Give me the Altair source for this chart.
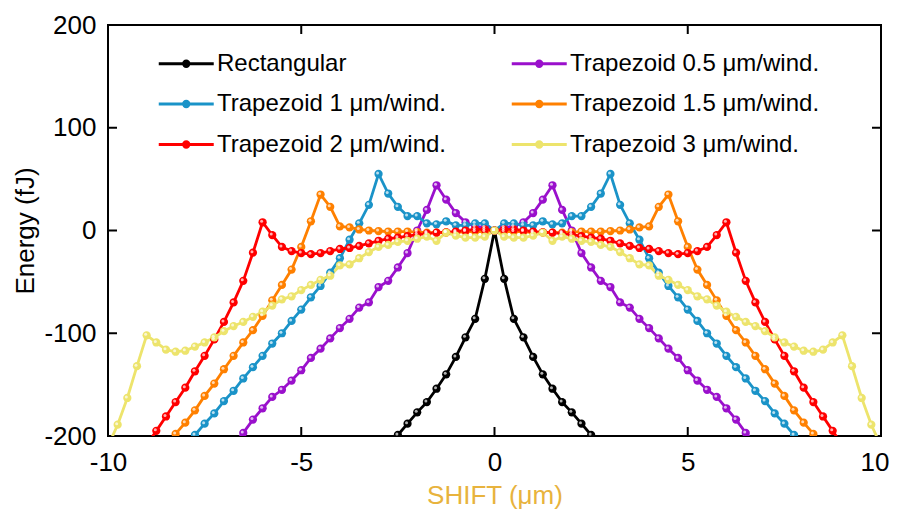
import altair as alt
import pandas as pd

# Series names
names = [
    "Rectangular",
    "Trapezoid 0.5 \u03bcm/wind.",
    "Trapezoid 1 \u03bcm/wind.",
    "Trapezoid 1.5 \u03bcm/wind.",
    "Trapezoid 2 \u03bcm/wind.",
    "Trapezoid 3 \u03bcm/wind.",
]
colors = ["#000000", "#9A10CC", "#1A93C8", "#FF8000", "#FF0000", "#EDE46C"]
# legend fills column-major: col 1 = Rect, 1, 2; col 2 = 0.5, 1.5, 3
legend_order = [0, 2, 4, 1, 3, 5]

step = 0.25  # sampling of SHIFT (um); curves are symmetric about 0
# Energy (fJ) at SHIFT = 0, 0.25, 0.5, ... (right half, mirrored to the left)
rect = [0, -47, -86, -104, -123, -140, -154, -167, -177, -188, -199, -210]
trap05 = [0, 3, 4, 8, 17, 30, 44, 20, 0, -22, -36, -49, -55, -70, -75, -86,
          -95, -105, -115, -124, -136, -146, -155, -162, -173, -184, -197, -208]
trap1 = [0, 7, 7, 5, 5, 9, 6, 7, 14, 14, 23, 36, 55, 25, 7, -9, -27, -41, -54,
         -65, -77, -88, -100, -110, -122, -133, -144, -156, -166, -178, -188,
         -199, -210]
trap15 = [0, -1, -1, -1, -2, -2, -2, -2, -1.5, -1, -1, -1, -0.5, 0, 1, 3, 4,
          23, 35, 9, -16, -38, -53, -68, -83, -97, -109, -122, -135, -149,
          -161, -175, -187, -198, -210]
trap2 = [0, 1, 1, 0, -1, -1.5, -2, -3, -4, -5.5, -7, -8, -10, -12.5, -15, -17,
         -18, -20, -22, -23, -22, -20, -16, -4.5, 8, -21.6, -49, -70, -89,
         -106, -122, -137, -153, -167, -181, -195, -209]
trap3 = [0, -6, -7, -7, -5, -2, -10, -6, -8, -10, -11, -14, -16, -21, -27,
         -33, -34, -44, -48, -53, -58, -64, -67, -73, -79, -84, -89, -93, -98,
         -104, -109, -113, -117, -118, -116, -109, -102, -132, -163, -189, -210]
series = [rect, trap05, trap1, trap15, trap2, trap3]

x_ticks = [-10, -5, 0, 5, 10]
y_ticks = [-200, -100, 0, 100, 200]

rows = []
for name, half in zip(names, series):
    n = len(half)
    for i in range(n - 1, 0, -1):
        rows.append({"series": name, "x": -i * step, "y": half[i]})
    for i in range(n):
        rows.append({"series": name, "x": i * step, "y": half[i]})
df = pd.DataFrame(rows)

W, H = 773, 411
xs = alt.Scale(domain=[-10, 10], nice=False, zero=False)
ys = alt.Scale(domain=[-200, 200], nice=False, zero=False)

x_axis = alt.Axis(values=x_ticks, labelExpr="'' + datum.value", domain=False,
                  ticks=False, grid=False, labelFontSize=26, labelPadding=13,
                  labelFlush=False, labelOverlap=False, labelBound=False,
                  labelAlign={"expr": "datum.value >= 10 ? 'right' : 'center'"},
                  labelOffset={"expr": "datum.value >= 10 ? 8 : 0"},
                  labelColor="black", labelFont="Liberation Sans",
                  title="SHIFT (\u03bcm)", titleFontSize=26, titleColor="#E8B33D",
                  titleFont="Liberation Sans", titleFontWeight="normal",
                  titlePadding=7)
y_axis = alt.Axis(values=y_ticks, labelExpr="'' + datum.value", domain=False,
                  ticks=False, grid=False, labelFontSize=26, labelPadding=12,
                  labelFlush=False, labelOverlap=False,
                  labelColor="black", labelFont="Liberation Sans",
                  title="Energy (fJ)", titleFontSize=26, titleColor="black",
                  titleFont="Liberation Sans", titleFontWeight="normal",
                  titlePadding=5)

legend_path = ("M-1,0L3,0M1.2,0A0.2,0.2,0,1,1,0.8,0"
               "A0.2,0.2,0,1,1,1.2,0")
color = alt.Color(
    "series:N",
    scale=alt.Scale(domain=[names[i] for i in legend_order],
                    range=[colors[i] for i in legend_order]),
    legend=alt.Legend(
        title=None, orient="none", legendX=49, legendY=23, columns=2,
        columnPadding=59, rowPadding=12.5, padding=0,
        symbolType=legend_path, symbolSize=756, symbolStrokeWidth=2.8,
        labelFontSize=24, labelFont="Liberation Sans", labelColor="black",
        labelOffset=29, labelLimit=400,
    ),
)

base = alt.Chart(df).encode(
    x=alt.X("x:Q", scale=xs, axis=x_axis),
    y=alt.Y("y:Q", scale=ys, axis=y_axis),
)

lines = base.mark_line(strokeWidth=2.8, clip=True).encode(color=color)
points = base.mark_circle(size=68, opacity=1, clip=True).encode(color=color)
shine = base.mark_circle(size=9, color="white", opacity=0.7, clip=True,
                         xOffset=-1, yOffset=-1)

xt = pd.DataFrame({"x": x_ticks})
yt = pd.DataFrame({"y": y_ticks})
xtick_b = alt.Chart(xt).mark_rule(color="black", strokeWidth=2).encode(
    x=alt.X("x:Q", scale=xs, axis=x_axis), y=alt.value(H), y2=alt.value(H - 9))
xtick_t = alt.Chart(xt).mark_rule(color="black", strokeWidth=2).encode(
    x=alt.X("x:Q", scale=xs, axis=x_axis), y=alt.value(0), y2=alt.value(9))
ytick_l = alt.Chart(yt).mark_rule(color="black", strokeWidth=2).encode(
    y=alt.Y("y:Q", scale=ys, axis=y_axis), x=alt.value(0), x2=alt.value(9))
ytick_r = alt.Chart(yt).mark_rule(color="black", strokeWidth=2).encode(
    y=alt.Y("y:Q", scale=ys, axis=y_axis), x=alt.value(W), x2=alt.value(W - 9))

chart = alt.layer(
    xtick_b, xtick_t, ytick_l, ytick_r, lines, points, shine
).properties(
    width=W, height=H,
    autosize=alt.AutoSizeParams(type="none"),
    padding={"left": 100, "top": 17, "right": 8, "bottom": 76},
    view=alt.ViewBackground(stroke="black", strokeWidth=2),
).configure(
    font="Liberation Sans", background="white"
).configure_view(stroke="black", strokeWidth=2)

chart.save("out.html", embed_options={"renderer": "svg", "actions": False})
